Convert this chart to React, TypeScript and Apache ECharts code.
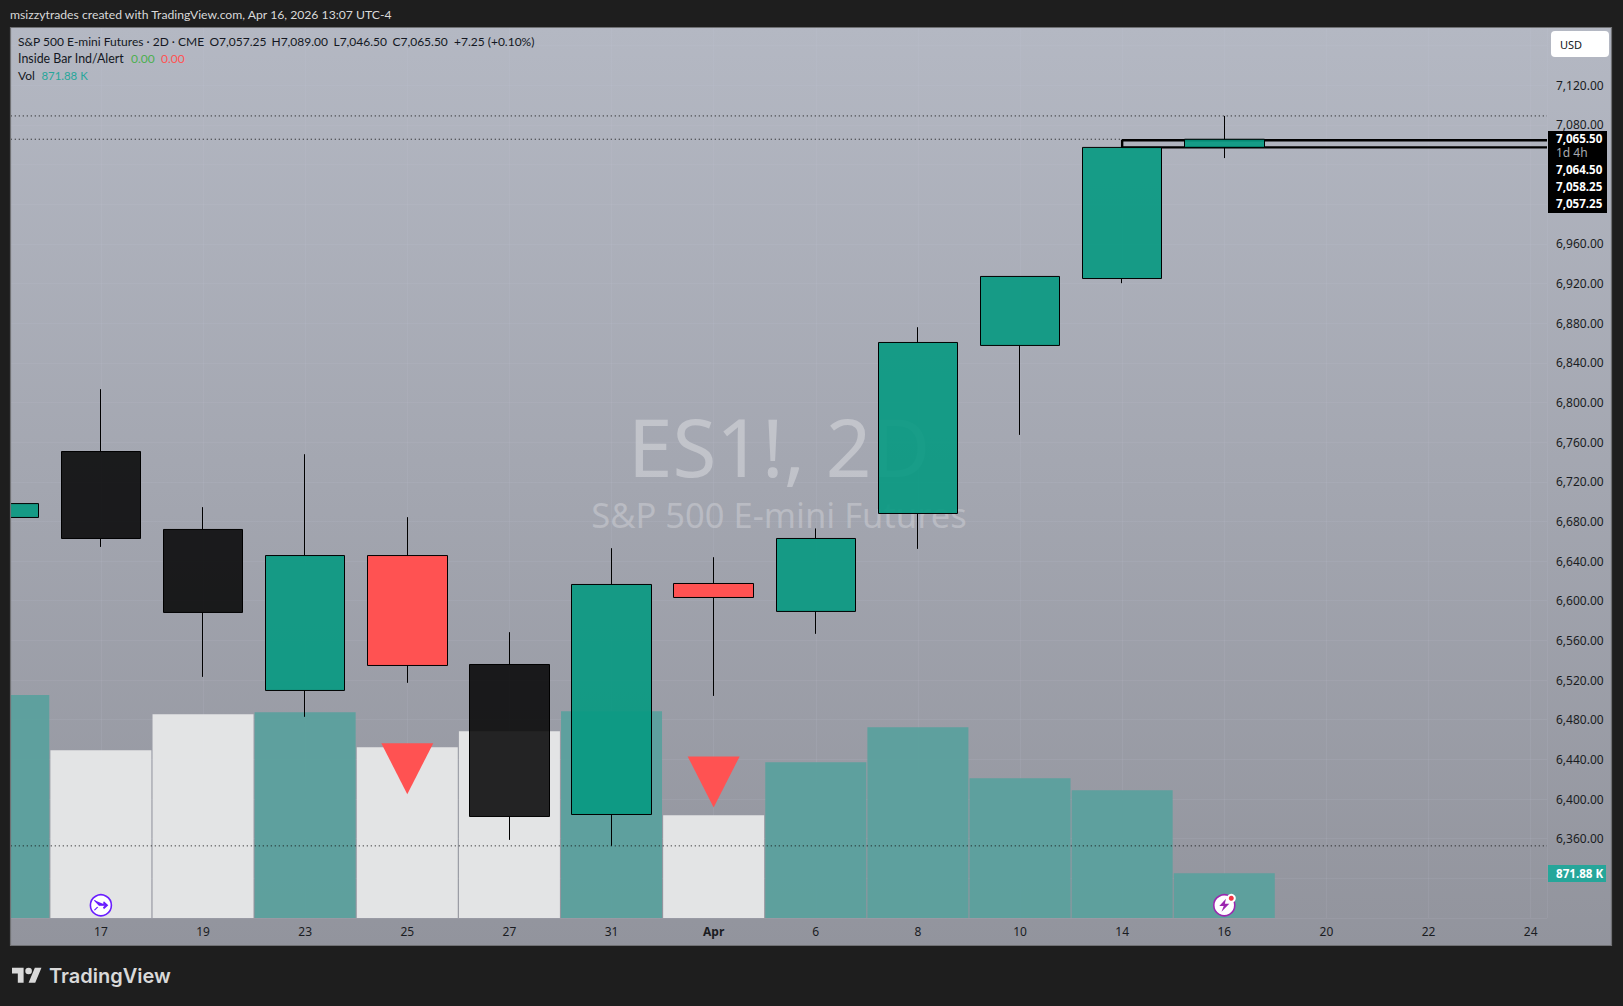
import React, { useEffect, useRef } from "react";
import * as echarts from "echarts";

// --- data ---
const tickLabels = ["17", "19", "23", "25", "27", "31", "Apr", "6", "8", "10", "14", "16", "20", "22", "24"];
const barIndex = [-1, 0, 1, 2, 3, 4, 5, 6, 7, 8, 9, 10, 11];
const opens = [6684, 6750.5, 6671.9, 6509.5, 6645.6, 6535.7, 6384.4, 6617.4, 6589.2, 6688, 6857.5, 6925, 7057.25];
const closes = [6698, 6662.8, 6588.2, 6645.6, 6534.7, 6382.4, 6616.4, 6603.3, 6662.8, 6860.5, 6927.1, 7057.25, 7065.5];
const lows = [6684, 6654.3, 6523.2, 6482.9, 6517.2, 6358.8, 6352.75, 6504, 6566.6, 6652.3, 6767.3, 6920.3, 7046.5];
const highs = [6698, 6813.4, 6694.4, 6747.8, 6684.3, 6568.3, 6653, 6643.9, 6672.9, 6875.9, 6927.1, 7064.5, 7089];
const candleKinds = ["up", "black", "black", "up", "red", "black", "up", "red", "up", "up", "up", "up", "up"];
const volumesK = [4350, 3271, 3973, 4012, 3329, 3642, 4032, 2003, 3037, 3720, 2725, 2491, 871.88];
const volumeKinds = ["teal", "white", "white", "teal", "white", "white", "teal", "white", "teal", "teal", "teal", "teal", "teal"];
const signalBars = [[3, 6430.6], [6, 6417.3]];
const dottedLevels = [7089, 6352.75];
const hiddenPriceTicks = [7160, 7040, 7000, 6320, 6280];
const closeLevel = 7065.5;
const insideBarTop = 7064.5;
const insideBarBottom = 7057.25;
const insideBarStart = 10;
const axisLeftIndex = -1;
const axisRightIndex = 14.16;
const priceMin = 6280;
const priceMax = 7178.7;
const volMax = 17373;
const iconVolume = 248;

const FONT = "'Noto Sans', sans-serif";
const LEGEND_FONT = "Lato, 'Noto Sans', sans-serif";
const TEXT = "#131722";
const GREEN = "rgba(5,153,129,0.9)";
const BLACK = "rgba(3,3,3,0.86)";
const RED = "#ff5252";
const TVD = "M14 22H7V11H0V4h14v18zM28 22h-8l7.5-18h8L28 22zM24 8a4 4 0 1 1-8 0 4 4 0 0 1 8 0z";

const ICON_ARROW = "path://M0 0L6 6L15 6M12 2.5L16 6L12 9.5L11.5 8.5L14.5 6L11.5 3.5ZM0 12L4 8";
const ICON_BOLT = "path://M6 0L0 9L4 9L2 16L9 6L5 6Z";

function buildOption() {
  const txt = (x: number, y: number, text: string, fill = TEXT, extra: any = {}) => ({
    type: "text",
    x,
    y,
    z: 70,
    silent: true,
    style: { text, fill, font: `12px ${LEGEND_FONT}`, textVerticalAlign: "middle", ...extra },
  });
  const tag = (x: number, y: number, text: string) =>
    txt(x, y, text, "#fff", { font: `bold 11.6px ${FONT}` });
  const candles = barIndex.map((x, i) => {
    const kind = candleKinds[i];
    const item: any = { value: [x, opens[i], closes[i], lows[i], highs[i]] };
    if (kind === "black") item.itemStyle = { color0: BLACK, borderColor0: "#000" };
    return item;
  });
  const levelLine = (name: string, data: number[][]) => ({
    type: "line",
    name,
    yAxisIndex: 0,
    data,
    showSymbol: false,
    symbol: "none",
    silent: true,
    z: 3,
    lineStyle: { color: "#111", width: 1, type: [1, 3] },
  });
  return {
    animation: false,
    backgroundColor: "#1e1e1e",
    grid: { left: -1.23, right: 76, top: 27, bottom: 88, outerBoundsMode: "none" },
    xAxis: {
      type: "value",
      min: axisLeftIndex,
      max: axisRightIndex,
      interval: 1,
      axisLine: { show: false },
      axisTick: { show: false },
      splitLine: { show: true, lineStyle: { color: "rgba(205,205,222,0.1)", width: 1 } },
      axisLabel: {
        margin: 7,
        hideOverlap: false,
        showMinLabel: true,
        showMaxLabel: true,
        color: "#1a1c22",
        fontFamily: FONT,
        fontSize: 12,
        rich: { b: { fontWeight: "bold", color: "#1a1c22", fontFamily: FONT, fontSize: 12 } },
        formatter: (v: number) => {
          if (!Number.isInteger(v)) return "";
          const s = tickLabels[v];
          if (!s) return "";
          return s === "Apr" ? "{b|Apr}" : s;
        },
      },
    },
    yAxis: [
      {
        type: "value",
        position: "right",
        min: priceMin,
        max: priceMax,
        interval: 40,
        axisLine: { show: false },
        axisTick: { show: false },
        splitLine: { show: true, lineStyle: { color: "rgba(205,205,222,0.1)", width: 1 } },
        axisLabel: {
          margin: 9,
          padding: [0, 0, 2, 0],
          color: "#1a1c22",
          fontFamily: FONT,
          fontSize: 12,
          formatter: (v: number) =>
            v % 40 !== 0 || hiddenPriceTicks.includes(v)
              ? ""
              : v.toLocaleString("en-US", { minimumFractionDigits: 2, maximumFractionDigits: 2 }),
        },
      },
      { type: "value", show: false, min: 0, max: volMax, splitLine: { show: false } },
    ],
    series: [
      {
        type: "bar",
        name: "Vol",
        yAxisIndex: 1,
        barWidth: 101,
        z: 1,
        silent: true,
        data: barIndex.map((x, i) => ({
          value: [x, volumesK[i]],
          itemStyle: { color: volumeKinds[i] === "white" ? "rgba(228,229,231,0.98)" : "rgba(90,160,157,0.94)" },
        })),
      },
      ...dottedLevels.map((lv) => levelLine("level " + lv, [[axisLeftIndex, lv], [axisRightIndex, lv]])),
      levelLine("close level", [[axisLeftIndex, closeLevel], [insideBarStart, closeLevel]]),
      {
        type: "line",
        name: "Inside bar range",
        yAxisIndex: 0,
        data: [
          [axisRightIndex, insideBarTop],
          [insideBarStart, insideBarTop],
          [insideBarStart, insideBarBottom],
          [axisRightIndex, insideBarBottom],
        ],
        showSymbol: false,
        symbol: "none",
        silent: true,
        z: 3,
        lineStyle: { color: "#000", width: 2.4 },
      },
      {
        type: "candlestick",
        name: "ES1!",
        yAxisIndex: 0,
        barWidth: 80,
        z: 4,
        silent: true,
        encode: { x: 0, y: [1, 2, 3, 4] },
        itemStyle: { color: GREEN, color0: RED, borderColor: "#000", borderColor0: "#000", borderWidth: 1 },
        data: candles,
      },
      {
        type: "scatter",
        name: "Inside Bar Ind/Alert",
        yAxisIndex: 0,
        symbol: "triangle",
        symbolRotate: 180,
        symbolSize: [52, 51],
        z: 5,
        silent: true,
        itemStyle: { color: RED, opacity: 1 },
        data: signalBars,
      },
      // session-break icon on the axis row
      {
        type: "scatter", name: "icon ring a", yAxisIndex: 1, symbol: "circle", symbolSize: 21, z: 6, silent: true,
        itemStyle: { color: "#fff", borderColor: "#6a1eff", borderWidth: 1.6, opacity: 1 },
        data: [[0, iconVolume]],
      },
      {
        type: "scatter", name: "icon glyph a", yAxisIndex: 1, symbol: ICON_ARROW, symbolSize: [13, 10], z: 7, silent: true,
        itemStyle: { color: "#6a1eff", borderColor: "#6a1eff", borderWidth: 1.2, opacity: 1 },
        data: [[0, iconVolume]],
      },
      {
        type: "scatter", name: "icon ring b", yAxisIndex: 1, symbol: "circle", symbolSize: 21, z: 6, silent: true,
        itemStyle: { color: "#fff", borderColor: "#9c27b0", borderWidth: 1.6, opacity: 1 },
        data: [[11, iconVolume]],
      },
      {
        type: "scatter", name: "icon glyph b", yAxisIndex: 1, symbol: ICON_BOLT, symbolSize: [10, 13], z: 7, silent: true,
        itemStyle: { color: "#9c27b0", opacity: 1 },
        data: [[11, iconVolume]],
      },
      {
        type: "scatter", name: "icon dot halo", yAxisIndex: 1, symbol: "circle", symbolSize: 9, symbolOffset: [7, -7], z: 8, silent: true,
        itemStyle: { color: "#fff", opacity: 1 },
        data: [[11, iconVolume]],
      },
      {
        type: "scatter", name: "icon dot", yAxisIndex: 1, symbol: "circle", symbolSize: 5, symbolOffset: [7, -7], z: 9, silent: true,
        itemStyle: { color: "#f23645", opacity: 1 },
        data: [[11, iconVolume]],
      },
    ],
    graphic: [
      {
        type: "rect",
        z: -10,
        silent: true,
        shape: { x: 10, y: 27, width: 1602, height: 919 },
        style: {
          fill: new echarts.graphic.LinearGradient(0, 0, 0, 1, [
            { offset: 0, color: "#b4b8c3" },
            { offset: 1, color: "#92949d" },
          ]),
        },
      },
      { type: "text", z: -5, silent: true, x: 779, y: 445, style: { text: "ES1!, 2D", fill: "rgba(255,255,255,0.32)", font: `80px ${FONT}`, textAlign: "center", textVerticalAlign: "middle" } },
      { type: "text", z: -5, silent: true, x: 779, y: 514, style: { text: "S&P 500 E-mini Futures", fill: "rgba(255,255,255,0.25)", font: `34.5px ${FONT}`, textAlign: "center", textVerticalAlign: "middle" } },
      // frame
      { type: "rect", z: 60, silent: true, shape: { x: 0, y: 27, width: 10, height: 920 }, style: { fill: "#1e1e1e" } },
      { type: "rect", z: 61, silent: true, shape: { x: 10.5, y: 27.5, width: 1601, height: 918 }, style: { fill: "none", stroke: "#707174", lineWidth: 1.2 } },
      // header and legend
      txt(10, 14, "msizzytrades created with TradingView.com, Apr 16, 2026 13:07 UTC-4", "#d9d9d9", { font: `12.2px ${LEGEND_FONT}` }),
      txt(18, 41, "S&P 500 E-mini Futures · 2D · CME"),
      txt(209.5, 41, "O7,057.25"),
      txt(271.5, 41, "H7,089.00"),
      txt(333.5, 41, "L7,046.50"),
      txt(392.5, 41, "C7,065.50"),
      txt(454, 41, "+7.25 (+0.10%)"),
      txt(18, 58, "Inside Bar Ind/Alert", TEXT, { font: `12.4px ${LEGEND_FONT}` }),
      txt(131, 58, "0.00", "#4caf50"),
      txt(161, 58, "0.00", "#ff5252"),
      txt(18, 75, "Vol"),
      txt(41.5, 75, "871.88 K", "#26a69a", { font: `11.4px ${LEGEND_FONT}` }),
      // currency button
      { type: "rect", z: 70, silent: true, shape: { x: 1551, y: 31, width: 58, height: 26, r: 4 }, style: { fill: "#fff" } },
      txt(1560, 44.5, "USD", TEXT, { font: `11px ${FONT}` }),
      // price scale tags
      { type: "rect", z: 65, silent: true, shape: { x: 1548, y: 131, width: 59, height: 82 }, style: { fill: "#000" } },
      tag(1556, 138.5, "7,065.50"),
      txt(1556, 152.5, "1d 4h", "#a9abb0", { font: `12px ${FONT}` }),
      tag(1556, 169.5, "7,064.50"),
      tag(1556, 186.5, "7,058.25"),
      tag(1556, 203.5, "7,057.25"),
      { type: "rect", z: 65, silent: true, shape: { x: 1548, y: 865, width: 58, height: 17 }, style: { fill: "#26a69a" } },
      tag(1556, 873, "871.88 K"),
      // footer logo
      { type: "tvlogo", z: 70, silent: true, x: 12, y: 964.4, scaleX: 0.83, scaleY: 0.83, style: { fill: "#d9d9d9" } },
      { type: "text", z: 70, silent: true, x: 49, y: 976, style: { text: "TradingView", fill: "#d9d9d9", font: `600 20px Inter, ${FONT}`, textVerticalAlign: "middle" } },
    ],
  };
}

export default function App() {
  const ref = useRef<HTMLDivElement>(null);
  useEffect(() => {
    echarts.graphic.registerShape("tvlogo", echarts.graphic.extendPath(TVD, {}));
    const chart = echarts.init(ref.current!, undefined, { renderer: "svg" });
    chart.setOption(buildOption() as any);
    return () => chart.dispose();
  }, []);
  return <div ref={ref} style={{ position: "absolute", left: 0, top: 0, width: 1623, height: 1006 }} />;
}
